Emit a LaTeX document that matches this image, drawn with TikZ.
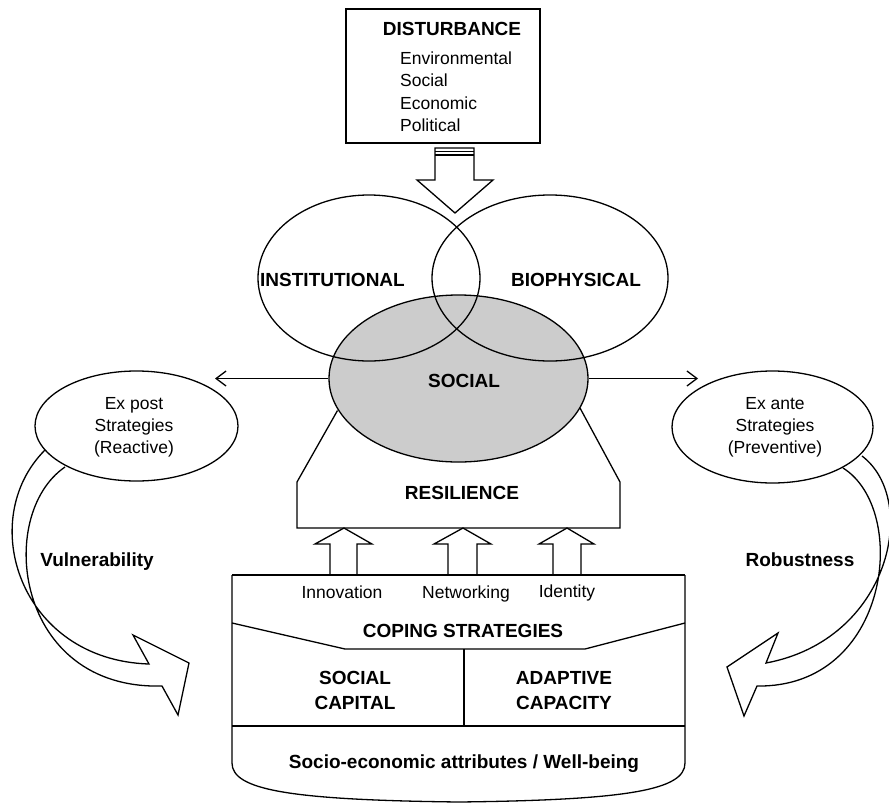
\documentclass[tikz,border=0pt]{standalone}
\usepackage{fontspec}
\setmainfont{Liberation Sans}
\usetikzlibrary{shapes.geometric,arrows.meta}
\begin{document}
\begin{tikzpicture}[x=1pt,y=-1pt,
  ln/.style={line width=1.3pt},
  ell/.style={ellipse, draw, line width=1.3pt, inner sep=0pt},
  txt/.style={font=\fontsize{17.5}{21}\selectfont, inner sep=0pt, anchor=base},
  btxt/.style={font=\bfseries\fontsize{19}{23}\selectfont, inner sep=0pt, anchor=base},
  harrow/.style={line width=1.3pt, -{Straight Barb[length=10pt,width=15pt]}},
  hollow/.style={line width=1.3pt, fill=white}]
\useasboundingbox (0,0) rectangle (889,806);

% Disturbance box
\node[draw, ln, minimum width=194pt, minimum height=134pt, inner sep=0pt] (dist) at (443,76) {};
\node[btxt] (distt) at (452,35) {DISTURBANCE};
\node[txt, anchor=base west] (env) at (400,64) {Environmental};
\node[txt, anchor=base west] (soci) at (400,86.5) {Social};
\node[txt, anchor=base west] (eco) at (400,109) {Economic};
\node[txt, anchor=base west] (pol) at (400,131) {Political};

% Venn ellipses
\node[ell, fill=gray!40, minimum width=259pt, minimum height=167pt] (soc) at (458.5,378.5) {};
\node[ell, minimum width=222pt, minimum height=166pt] (inst) at (369,278) {};
\node[ell, minimum width=236pt, minimum height=166pt] (bio) at (550,278) {};
\node[btxt, anchor=base east] (instt) at (405,286) {INSTITUTIONAL};
\node[btxt] (biot) at (576,286) {BIOPHYSICAL};
\node[btxt] (soct) at (464,387) {SOCIAL};

% Disturbance arrow
\draw[hollow] (435,148) -- (435,180) -- (417,180) -- (455,213) -- (493,180) -- (474,180) -- (474,148) -- cycle;
\draw[ln] (435,151.5) -- (474,151.5);
\draw[ln] (435,155) -- (474,155);

% Strategy ellipses
\node[ell, minimum width=203pt, minimum height=110pt] (expost) at (136.5,426) {};
\node[ell, minimum width=201pt, minimum height=112pt] (exante) at (772.5,427) {};
\node[txt] (ep1) at (134,409) {Ex post};
\node[txt] (ep2) at (134,431) {Strategies};
\node[txt] (ep3) at (134,453) {(Reactive)};
\node[txt] (ea1) at (775,409) {Ex ante};
\node[txt] (ea2) at (775,431) {Strategies};
\node[txt] (ea3) at (775,453) {(Preventive)};

% Horizontal arrows
\coordinate (lend) at (215,378.5);
\coordinate (rend) at (698,378.5);
\draw[harrow] (soc.west) -- (lend);
\draw[harrow] (soc.east) -- (rend);

% Resilience
\draw[ln] (337.5,410.5) -- (297,482) -- (297,528) -- (620,528) -- (620,482) -- (580,408);
\node[btxt] (res) at (462,499) {RESILIENCE};

% Up arrows
\draw[hollow] (330,575) -- (330,544) -- (315,544) -- (344,528) -- (372,544) -- (357,544) -- (357,575);
\draw[hollow] (448,575) -- (448,544) -- (434,544) -- (463,528) -- (491,544) -- (477,544) -- (477,575);
\draw[hollow] (553,575) -- (553,544) -- (539,544) -- (567,528) -- (594,544) -- (581,544) -- (581,575);

% Bottom box
\draw[ln] (232,575) -- (685,575);
\draw[ln] (232,575) -- (232,763) .. controls (232,790) and (290,800) .. (459,802)
  .. controls (628,800) and (685,790) .. (685,763) -- (685,575);
\draw[ln] (232,623) -- (345,649) -- (585,649) -- (685,623);
\draw[ln] (464,649) -- (464,726);
\draw[ln] (232,726) -- (685,726);

\node[txt] (inn) at (342,598) {Innovation};
\node[txt] (net) at (466,598) {Networking};
\node[txt] (ide) at (567,597) {Identity};
\node[btxt] (cop) at (463,637) {COPING STRATEGIES};
\node[btxt] (sc1) at (355,684) {SOCIAL};
\node[btxt] (sc2) at (355,709) {CAPITAL};
\node[btxt] (ac1) at (564,684) {ADAPTIVE};
\node[btxt] (ac2) at (564,709) {CAPACITY};
\node[btxt] (sew) at (464,768) {Socio-economic attributes / Well-being};

% Curved ribbon arrows
\draw[ln] (45,450) .. controls (-25,520) and (20,660) .. (149,664) -- (133,635) -- (189,663)
  -- (178,715) -- (162,686) .. controls (15,690) and (-5,515) .. (65,467);
\draw[ln] (862,456) .. controls (920,500) and (890,640) .. (766,663) -- (778,633) -- (727,667)
  -- (744,716) -- (757,686) .. controls (890,688) and (910,510) .. (843,468);
\node[btxt] (vul) at (97,566) {Vulnerability};
\node[btxt] (rob) at (800,566) {Robustness};
\end{tikzpicture}
\end{document}
